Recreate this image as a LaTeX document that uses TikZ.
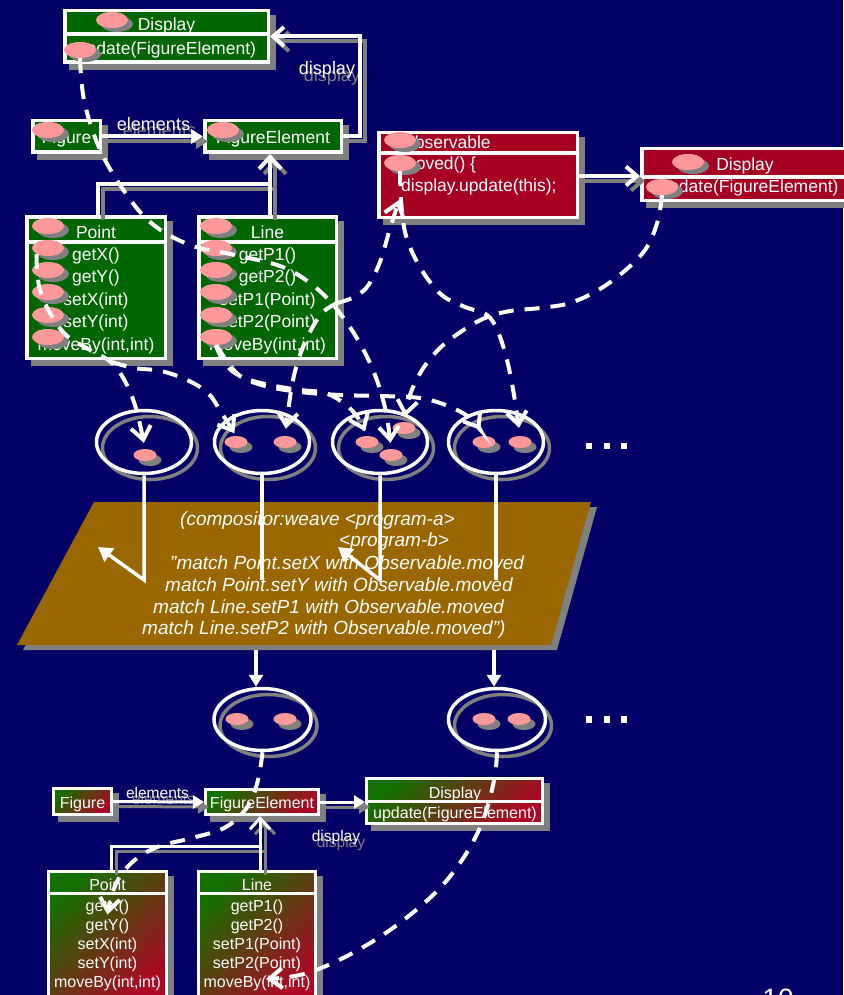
\documentclass[tikz,border=0pt]{standalone}
\usepackage{fontspec}
\setmainfont{Liberation Sans}
\usetikzlibrary{shapes.geometric, arrows.meta}

\definecolor{bgblue}{RGB}{2,0,102}
\definecolor{dgreen}{RGB}{0,102,0}
\definecolor{dred}{RGB}{165,0,33}
\definecolor{pinkb}{RGB}{255,153,153}
\definecolor{shadowgray}{RGB}{128,128,128}
\definecolor{brownp}{RGB}{153,102,0}
\definecolor{gtop}{RGB}{20,112,0}
\definecolor{rbot}{RGB}{172,8,36}

\begin{document}
\begin{tikzpicture}[x=1pt, y=-1pt,
  box/.style={draw=white, line width=3.5pt, inner sep=0pt,
    preaction={fill=shadowgray, draw=shadowgray, line width=3.5pt, transform canvas={shift={(6pt,-6pt)}}}},
  gbox/.style={box, fill=dgreen},
  rbox/.style={box, fill=dred},
  gradbox/.style={box, line width=3pt, top color=gtop, bottom color=rbot, shading angle=45},
  divider/.style={draw=white, line width=3.5pt},
  bdivider/.style={draw=white, line width=3pt},
  tA/.style={text=white, inner sep=0pt, anchor=base, font=\fontsize{17.5}{21}\selectfont},
  tAw/.style={tA, anchor=base west},
  tB/.style={text=white, inner sep=0pt, anchor=base, font=\fontsize{16}{19}\selectfont},
  lblA/.style={inner sep=0pt, anchor=base, font=\fontsize{18}{21}\selectfont},
  lblB/.style={inner sep=0pt, anchor=base, font=\fontsize{15.5}{18}\selectfont},
  weavetxt/.style={text=white, inner sep=0pt, anchor=base west, font=\fontsize{19}{22}\selectfont\itshape},
  blob/.style={ellipse, fill=pinkb, inner sep=0pt, minimum width=32pt, minimum height=16pt,
    preaction={fill=shadowgray, transform canvas={shift={(5pt,-4pt)}}}},
  sblob/.style={ellipse, fill=pinkb, inner sep=0pt, minimum width=23pt, minimum height=12pt,
    preaction={fill=shadowgray, transform canvas={shift={(5pt,-5pt)}}}},
  ring/.style={ellipse, draw=white, line width=3.5pt, inner sep=0pt,
    preaction={draw=shadowgray, line width=3.5pt, transform canvas={shift={(6pt,-6pt)}}}},
  dotsq/.style={fill=white, inner sep=0pt, minimum size=6.5pt},
  conn/.style={draw=white, line width=4pt},
  bconn/.style={draw=white, line width=3pt},
  cshad/.style={draw=shadowgray, line width=4pt, transform canvas={shift={(5pt,-5pt)}}},
  bcshad/.style={draw=shadowgray, line width=3pt, transform canvas={shift={(5pt,-5pt)}}},
  wline/.style={draw=white, line width=3.5pt},
  dcurve/.style={draw=white, line width=4pt, dash pattern=on 15pt off 11pt,
    -{Straight Barb[length=13pt, width=20pt]}},
  barb/.style={-{Straight Barb[length=11pt, width=19pt]}},
  ibarb/.style={-{Straight Barb[length=12pt, width=22pt]}},
  tri/.style={-{Triangle[length=12pt, width=14pt]}},
  btri/.style={-{Triangle[length=11pt, width=13pt]}}
]

\useasboundingbox (0,0) rectangle (843,995);
\fill[bgblue] (0,0) rectangle (843,995);

% ---------- weave script ----------
\fill[shadowgray] (100,507) -- (597,507) -- (557,650) -- (23,650) -- cycle;
\fill[brownp] (94,502) -- (591,502) -- (551,645) -- (17,645) -- cycle;
\node[weavetxt] (w1) at (180,525) {(compositor:weave <program-a>};
\node[weavetxt] (w2) at (339,546) {<program-b>};
\node[weavetxt] (w3) at (170,569) {"match Point.setX with Observable.moved};
\node[weavetxt] (w4) at (165,591) {match Point.setY with Observable.moved};
\node[weavetxt] (w5) at (153,613) {match Line.setP1 with Observable.moved};
\node[weavetxt] (w6) at (142,634) {match Line.setP2 with Observable.moved")};

% ---------- program a (figure editor) ----------
\node[gbox, minimum width=203.5pt, minimum height=51.5pt] (tDisp) at (166.5,36.5) {};
\node[tA] (tDispH) at (166.5,31) {Display};
\node[tA] (tDispU) at (166.5,55) {update(FigureElement)};
\draw[divider] ([yshift=-25pt]tDisp.north west) -- ([yshift=-25pt]tDisp.north east);

\node[gbox, minimum width=67.5pt, minimum height=31.5pt] (tFig) at (66.5,136.5) {};
\node[tA] (tFigT) at (66.5,144) {Figure};
\node[gbox, minimum width=136.5pt, minimum height=31.5pt] (tFE) at (273,136.5) {};
\node[tA] (tFET) at (273,144) {FigureElement};

\node[gbox, minimum width=138.5pt, minimum height=141.5pt] (tPoint) at (96,287.5) {};
\node[tA] (tPointH) at (96,238) {Point};
\node[tA] (tPGetX) at (96,260) {getX()};
\node[tA] (tPGetY) at (96,282.5) {getY()};
\node[tA] (tPSetX) at (96,305) {setX(int)};
\node[tA] (tPSetY) at (96,327.5) {setY(int)};
\node[tA] (tPMove) at (96,350) {moveBy(int,int)};
\draw[divider] ([yshift=-27pt]tPoint.north west) -- ([yshift=-27pt]tPoint.north east);

\node[gbox, minimum width=137.5pt, minimum height=141.5pt] (tLine) at (267.5,287.5) {};
\node[tA] (tLineH) at (267.5,238) {Line};
\node[tA] (tLGetP1) at (267.5,260) {getP1()};
\node[tA] (tLGetP2) at (267.5,282.5) {getP2()};
\node[tA] (tLSetP1) at (267.5,305) {setP1(Point)};
\node[tA] (tLSetP2) at (267.5,327.5) {setP2(Point)};
\node[tA] (tLMove) at (267.5,350) {moveBy(int,int)};
\draw[divider] ([yshift=-27pt]tLine.north west) -- ([yshift=-27pt]tLine.north east);

% ---------- program b (observer) ----------
\node[rbox, minimum width=198.5pt, minimum height=84.5pt] (obs) at (478,175) {};
\node[tAw] (obsH) at (401,149) {Observable};
\node[tAw] (obsM) at (401,170) {moved() \{};
\node[tAw] (obsU) at (401,192) {display.update(this);};
\draw[divider] ([yshift=-22pt]obs.north west) -- ([yshift=-22pt]obs.north east);

\node[rbox, minimum width=204.5pt, minimum height=51.5pt] (rDisp) at (744,174.5) {};
\node[tA] (rDispH) at (745,171) {Display};
\node[tA] (rDispU) at (749,193) {update(FigureElement)};
\draw[divider] ([yshift=-30pt]rDisp.north west) -- ([yshift=-30pt]rDisp.north east);

% ---------- labels and associations, program a ----------
\node[lblA, text=shadowgray] (elemTs) at (159.5,137) {elements};
\node[lblA, text=white] (elemT) at (153.5,131) {elements};
\node[lblA, text=shadowgray] (dispTs) at (332,82) {display};
\node[lblA, text=white] (dispT) at (327,75) {display};

\coordinate (tJp) at (98,184);
\coordinate (tJl) at (270,184);
\coordinate (oArrow) at (600,176);
% shadows first
\draw[cshad, tri] (tFig.east) -- (tFE.west);
\draw[cshad, barb] (tFE.east) -- ++(17,0) |- (tDisp.east);
\draw[cshad, ibarb] (tPoint.north -| tJp) -- (tJp) -- (tJl)
  (tLine.north -| tJl) -- (tFE.south -| tJl);
\draw[cshad, barb] (obs.east |- oArrow) -- (rDisp.west |- oArrow);
% then the white lines
\draw[conn, tri] (tFig.east) -- (tFE.west);
\draw[conn, barb] (tFE.east) -- ++(17,0) |- (tDisp.east);
\draw[conn, ibarb] (tPoint.north -| tJp) -- (tJp) -- (tJl)
  (tLine.north -| tJl) -- (tFE.south -| tJl);
\draw[conn, barb] (obs.east |- oArrow) -- (rDisp.west |- oArrow);

% ---------- method markers ----------
\node[blob] (dHead) at (112,20) {};
\node[blob] (dUpd) at (80,50) {};
\node[blob] (figB) at (48,130) {};
\node[blob] (feB) at (223,130) {};
\node[blob] (pHead) at (48,226) {};
\node[blob] (pGetX) at (48,248) {};
\node[blob] (pGetY) at (48,270) {};
\node[blob] (pSetX) at (48,292) {};
\node[blob] (pSetY) at (48,315) {};
\node[blob] (pMove) at (48,337) {};
\node[blob] (lHead) at (216,226) {};
\node[blob] (lGetP1) at (216,248) {};
\node[blob] (lGetP2) at (216,270) {};
\node[blob] (lSetP1) at (216,292) {};
\node[blob] (lSetP2) at (216,315) {};
\node[blob] (lMove) at (216,337) {};
\node[blob] (oHead) at (400,140) {};
\node[blob] (oMoved) at (400,163) {};
\node[blob] (rdHead) at (688,162) {};
\node[blob] (rdUpd) at (662,187) {};

% ---------- join point groups ----------
\node[ring, minimum width=95pt, minimum height=63pt] (E1) at (144,442) {};
\node[ring, minimum width=95pt, minimum height=63pt] (E2) at (262,442) {};
\node[ring, minimum width=95pt, minimum height=63pt] (E3) at (380,442) {};
\node[ring, minimum width=95pt, minimum height=63pt] (E4) at (496,442) {};
\node[sblob] (e1a) at (145,455) {};
\node[sblob] (e2a) at (236,442) {};
\node[sblob] (e2b) at (285,442) {};
\node[sblob] (e3a) at (367,442) {};
\node[sblob] (e3b) at (404,428) {};
\node[sblob] (e3c) at (391,455) {};
\node[sblob] (e4a) at (484,442) {};
\node[sblob] (e4b) at (520,442) {};
\node[dotsq] (d1) at (589,446) {};
\node[dotsq] (d2) at (607,446) {};
\node[dotsq] (d3) at (624,446) {};

\node[ring, minimum width=97pt, minimum height=62pt] (L1) at (262.5,719.5) {};
\node[ring, minimum width=97pt, minimum height=62pt] (L2) at (497,719.5) {};
\node[sblob] (l1a) at (237,719) {};
\node[sblob] (l1b) at (285,719) {};
\node[sblob] (l2a) at (484,719) {};
\node[sblob] (l2b) at (519,719) {};
\node[dotsq] (d4) at (589,719.5) {};
\node[dotsq] (d5) at (607,719.5) {};
\node[dotsq] (d6) at (624,719.5) {};

% ---------- into the weaver and out ----------
\coordinate (wA) at (0,580);
\coordinate (wAt1) at (98,547);
\coordinate (wAt3) at (338,547);
\draw[wline, -{Triangle[length=14pt, width=16pt]}] (E1.south) -- (E1.south |- wA) -- (wAt1);
\draw[wline] (E2.south) -- (E2.south |- wA);
\draw[wline, -{Triangle[length=14pt, width=16pt]}] (E3.south) -- (E3.south |- wA) -- (wAt3);
\draw[wline] (E4.south) -- (E4.south |- wA);
\coordinate (wB1) at (256,650);
\coordinate (wB2) at (494,650);
\draw[wline, tri] (wB1) -- (wB1 |- L1.north);
\draw[wline, tri] (wB2) -- (wB2 |- L2.north);

% ---------- woven program ----------
\node[gradbox, minimum width=58pt, minimum height=26pt] (bFig) at (82.5,801.5) {};
\node[tB] (bFigT) at (82.5,808) {Figure};
\node[gradbox, minimum width=113pt, minimum height=25pt] (bFE) at (262,802) {};
\node[tB] (bFET) at (262,808) {FigureElement};
\node[gradbox, minimum width=176pt, minimum height=45pt] (bDisp) at (454.5,801) {};
\node[tB] (bDispH) at (455,798.5) {Display};
\node[tB] (bDispU) at (455,818) {update(FigureElement)};
\draw[bdivider] ([yshift=-24pt]bDisp.north west) -- ([yshift=-24pt]bDisp.north east);

\node[gradbox, minimum width=118pt, minimum height=130pt] (bPoint) at (107.5,936.5) {};
\node[tB] (bPointH) at (107.5,890) {Point};
\node[tB] (bPGetX) at (107.5,911) {getX()};
\node[tB] (bPGetY) at (107.5,930) {getY()};
\node[tB] (bPSetX) at (107.5,949) {setX(int)};
\node[tB] (bPSetY) at (107.5,968) {setY(int)};
\node[tB] (bPMove) at (107.5,987) {moveBy(int,int)};
\draw[bdivider] ([yshift=-23pt]bPoint.north west) -- ([yshift=-23pt]bPoint.north east);

\node[gradbox, minimum width=117pt, minimum height=130pt] (bLine) at (257,936.5) {};
\node[tB] (bLineH) at (257,890) {Line};
\node[tB] (bLGetP1) at (257,911) {getP1()};
\node[tB] (bLGetP2) at (257,930) {getP2()};
\node[tB] (bLSetP1) at (257,949) {setP1(Point)};
\node[tB] (bLSetP2) at (257,968) {setP2(Point)};
\node[tB] (bLMove) at (257,987) {moveBy(int,int)};
\draw[bdivider] ([yshift=-23pt]bLine.north west) -- ([yshift=-23pt]bLine.north east);

\node[lblB, text=shadowgray] (elemBs) at (163.5,804) {elements};
\node[lblB, text=white] (elemB) at (157.5,798) {elements};
\node[lblB, text=shadowgray] (dispBs) at (341,847) {display};
\node[lblB, text=white] (dispB) at (336,841) {display};

\coordinate (bJp) at (111,846);
\coordinate (bJl) at (260,846);
\draw[bcshad, btri] (bFig.east) -- (bFE.west);
\draw[bcshad, btri] (bFE.east) -- (bDisp.west |- bFE.east);
\draw[bcshad, -{Straight Barb[length=11pt, width=20pt]}]
  (bPoint.north -| bJp) -- (bJp) -- (bJl)
  (bLine.north -| bJl) -- (bFE.south -| bJl);
\draw[bconn, btri] (bFig.east) -- (bFE.west);
\draw[bconn, btri] (bFE.east) -- (bDisp.west |- bFE.east);
\draw[bconn, -{Straight Barb[length=11pt, width=20pt]}]
  (bPoint.north -| bJp) -- (bJp) -- (bJl)
  (bLine.north -| bJl) -- (bFE.south -| bJl);

% ---------- join point references ----------
\coordinate (lB1) at (337,303);
\coordinate (obsIn) at (399,200);
\coordinate (pF) at (112,362);
\coordinate (bLmT) at (266,979);

\draw[dcurve, shorten >=6pt] plot[smooth, tension=0.6] coordinates
  {(dUpd.south) (84,100) (98,145) (120,185) (150,222) (190,245) (235,255) (280,266)
   (310,283) (335,307) (358,340) (375,375) (386,412) (e3c.north)};
\draw[dcurve] plot[smooth, tension=0.6] coordinates
  {(lB1) (352,298) (367,287) (380,262) (389,232) (obsIn)};
\draw[dcurve, shorten >=7pt] plot[smooth, tension=0.6] coordinates
  {(lB1) (322,313) (310,332) (300,355) (292,385) (e2b.north)};
\draw[dcurve, shorten >=8pt] plot[smooth, tension=0.6] coordinates
  {(oMoved.south) (401,200) (405,232) (414,256) (427,278) (443,296) (465,307) (487,315)
   (498,332) (507,360) (514,395) (e4b.north)};
\draw[dcurve, shorten >=5pt] plot[smooth, tension=0.6] coordinates
  {(rdUpd.south) (658,220) (647,247) (628,268) (600,289) (570,303) (540,308) (510,311)
   (485,318) (462,331) (440,348) (422,370) (410,395) (e3b.north)};
\draw[dcurve, shorten >=6pt] plot[smooth, tension=0.6] coordinates
  {(pGetX.south west) (37,268) (40,290) (50,313) (66,335) (90,350) (112,363) (127,385)
   (137,412) (e1a.north)};
\draw[dcurve, shorten >=3pt] plot[smooth, tension=0.6] coordinates
  {(pF) (134,368) (161,371) (187,380) (208,393) (221,412) (e2a.north)};
\draw[dcurve, shorten >=5pt] plot[smooth, tension=0.6] coordinates
  {(lMove.south) (221,357) (232,371) (250,380) (275,386) (300,390) (325,393) (345,404)
   (358,418) (e3a.north)};
\draw[dcurve, shorten >=7pt] plot[smooth, tension=0.6] coordinates
  {(lMove.south) (225,358) (240,376) (265,386) (300,392) (340,395) (380,396) (420,398)
   (448,406) (470,418) (e4a.north)};

\draw[dcurve] plot[smooth, tension=0.6] coordinates
  {(L1.south) (258,780) (248,806) (226,827) (192,838) (160,846) (136,859) (119,878)
   (111,898) (bPGetX.south)};
\draw[dcurve] plot[smooth, tension=0.6] coordinates
  {(L2.south) (495,775) (488,805) (478,832) (462,860) (440,888) (410,915) (375,940)
   (335,962) (300,975) (bLmT)};

% ---------- page number ----------
\node[text=white, inner sep=0pt, anchor=base, font=\fontsize{28}{30}\selectfont] (pg) at (778,1008) {10};

\end{tikzpicture}
\end{document}
